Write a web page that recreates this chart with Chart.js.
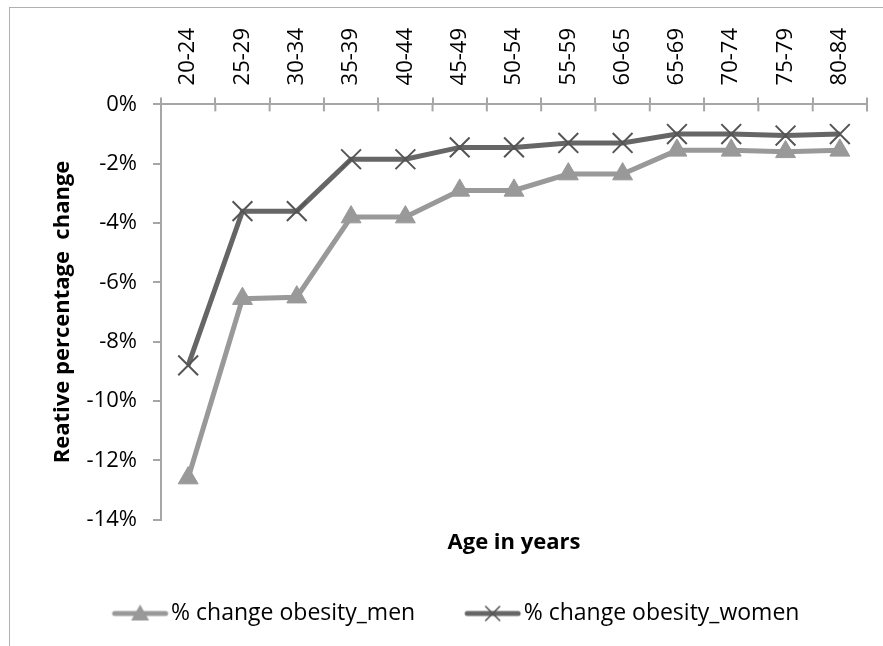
<!DOCTYPE html>
<html>
<head>
<meta charset="utf-8">
<script src="https://cdn.jsdelivr.net/npm/chart.js@4/dist/chart.umd.min.js"></script>
<style>
  html, body { margin: 0; padding: 0; background: #fff; }
  #wrap { position: relative; width: 883px; height: 646px; overflow: hidden; }
  #frame { position: absolute; left: 9px; top: 7px; width: 900px; height: 700px;
           border-left: 1px solid #b0b0b0; border-top: 1px solid #b0b0b0; pointer-events: none; }
  canvas { position: absolute; left: 0; top: 0; }
</style>
</head>
<body>
<div id="wrap">
  <canvas id="c" width="883" height="646"></canvas>
  <div id="frame"></div>
</div>
<script>
const categories = ["20-24","25-29","30-34","35-39","40-44","45-49","50-54","55-59","60-65","65-69","70-74","75-79","80-84"];
const menValues   = [-12.6, -6.55, -6.5, -3.8, -3.8, -2.9, -2.9, -2.35, -2.35, -1.55, -1.55, -1.6, -1.55];
const womenValues = [-8.8, -3.6, -3.6, -1.85, -1.85, -1.45, -1.45, -1.3, -1.3, -1.0, -1.0, -1.05, -1.0];
const seriesNames = ["% change obesity_men", "% change obesity_women"];
const yTitle = "Reative percentage  change";
const xTitle = "Age in years";

const FONT = "'Open Sans', sans-serif";
const MEN = "#999999";
const WOMEN = "#666666";
const AXIS = "#a6a6a6";
const TICK_SIZE = 22;

function legendIcon(color, style) {
  const cv = document.createElement('canvas');
  cv.width = 80; cv.height = 22;
  const g = cv.getContext('2d');
  g.strokeStyle = color; g.lineWidth = 5; g.lineCap = 'round';
  g.beginPath(); g.moveTo(16, 11); g.lineTo(67, 11); g.stroke();
  if (style === 'triangle') {
    g.fillStyle = color;
    g.beginPath(); g.moveTo(41.5, 2); g.lineTo(50.5, 18); g.lineTo(32.5, 18); g.closePath(); g.fill();
  } else {
    g.strokeStyle = '#555'; g.lineWidth = 1.6;
    g.beginPath(); g.moveTo(34.5, 4); g.lineTo(48.5, 18); g.moveTo(48.5, 4); g.lineTo(34.5, 18); g.stroke();
  }
  return cv;
}
const icons = [legendIcon(MEN, 'triangle'), legendIcon(WOMEN, 'cross')];

const innerTicks = {
  id: 'innerTicks',
  beforeDatasetsDraw(chart) {
    const s = chart.scales.x;
    const ctx = chart.ctx;
    const step = s.getPixelForTick(1) - s.getPixelForTick(0);
    ctx.save();
    ctx.strokeStyle = AXIS; ctx.lineWidth = 2;
    for (let i = 0; i <= categories.length; i++) {
      const x = s.getPixelForTick(0) - step / 2 + i * step;
      ctx.beginPath(); ctx.moveTo(x, s.bottom); ctx.lineTo(x, s.bottom + 7); ctx.stroke();
    }
    ctx.restore();
  }
};

new Chart(document.getElementById('c'), {
  type: 'line',
  data: {
    labels: categories,
    datasets: [
      { label: seriesNames[0], data: menValues, borderColor: MEN, backgroundColor: MEN,
        borderWidth: 5, pointStyle: 'triangle', pointRadius: 11.5, pointBorderWidth: 1,
        pointBackgroundColor: MEN, pointBorderColor: MEN, tension: 0 },
      { label: seriesNames[1], data: womenValues, borderColor: WOMEN, backgroundColor: WOMEN,
        borderWidth: 5, pointStyle: 'crossRot', pointRadius: 14, pointBorderWidth: 2,
        pointBorderColor: '#555555', tension: 0 }
    ]
  },
  options: {
    responsive: false,
    animation: false,
    layout: { padding: { left: 50, right: 16, top: 16, bottom: 11 } },
    plugins: {
      tooltip: { enabled: false },
      legend: {
        position: 'bottom',
        labels: {
          font: { family: FONT, size: 23 },
          color: '#000',
          usePointStyle: true,
          pointStyleWidth: 42,
          padding: 55,
          generateLabels(chart) {
            return chart.data.datasets.map((d, i) => ({
              text: d.label, pointStyle: icons[i], datasetIndex: i,
              fillStyle: d.borderColor, strokeStyle: d.borderColor, lineWidth: 0, hidden: false
            }));
          }
        }
      }
    },
    scales: {
      x: {
        position: 'top',
        offset: true,
        grid: { offset: true, drawOnChartArea: false, drawTicks: true, tickLength: 7, color: AXIS, lineWidth: 2 },
        border: { display: true, color: AXIS, width: 2 },
        ticks: { minRotation: 90, maxRotation: 90, autoSkip: false, color: '#000',
                 font: { family: FONT, size: TICK_SIZE }, padding: 12,
                 labelOffset: TICK_SIZE * 1.2 }
      },
      x2: {
        type: 'category',
        labels: categories,
        position: 'bottom',
        offset: true,
        grid: { display: false },
        border: { display: false },
        ticks: { display: false },
        title: { display: true, text: xTitle, color: '#000',
                 font: { family: FONT, size: 22, weight: 'bold' }, padding: { top: 2, bottom: -9 } }
      },
      y: {
        min: -14, max: 0,
        afterFit(scale) { scale.width = 111; },
        grid: { drawOnChartArea: false, drawTicks: true, tickLength: 8, color: AXIS, lineWidth: 2 },
        border: { display: true, color: AXIS, width: 2 },
        ticks: { stepSize: 2, color: '#000', font: { family: FONT, size: TICK_SIZE }, padding: 16,
                 callback: v => v + '%' },
        title: { display: true, text: yTitle, color: '#000',
                 font: { family: FONT, size: 22, weight: 'bold' }, padding: { top: 0, bottom: 10 } }
      }
    }
  },
  plugins: [innerTicks]
});
</script>
</body>
</html>
